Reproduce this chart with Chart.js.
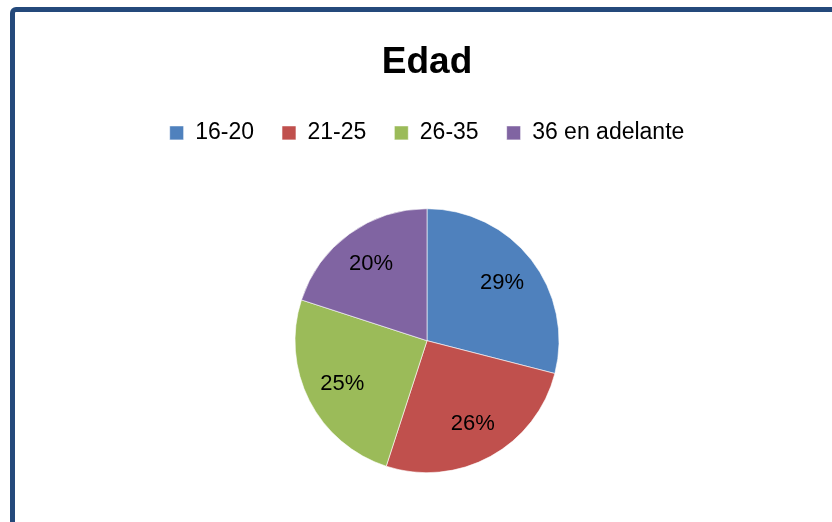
<!DOCTYPE html>
<html>
<head>
<meta charset="utf-8">
<script src="https://cdn.jsdelivr.net/npm/chart.js@4/dist/chart.umd.min.js"></script>
<style>
  html, body { margin: 0; padding: 0; background: #fff; overflow: hidden; }
  #wrap { position: relative; width: 832px; height: 522px; overflow: hidden; }
  #frame {
    position: absolute; left: 10px; top: 7px; width: 900px; height: 600px;
    border: 5px solid #24497b; border-radius: 6px; pointer-events: none;
  }
  canvas { position: absolute; left: 0; top: 0; }
</style>
</head>
<body>
<div id="wrap">
  <canvas id="chart1" width="832" height="527"></canvas>
  <div id="frame"></div>
</div>
<script>
const categories = ['16-20', '21-25', '26-35', '36 en adelante'];
const percentages = [29, 26, 25, 20];
const sliceColors = ['#4f81bd', '#c0504d', '#9bbb59', '#8064a2'];

const font = "'Liberation Sans', Arial, sans-serif";

// percentage labels inside each slice
const sliceLabels = {
  id: 'sliceLabels',
  afterDatasetsDraw(chart) {
    const ctx = chart.ctx;
    const meta = chart.getDatasetMeta(0);
    const values = chart.data.datasets[0].data;
    const total = values.reduce((a, b) => a + b, 0);
    ctx.save();
    ctx.font = '22px ' + font;
    ctx.fillStyle = '#000';
    ctx.textAlign = 'center';
    ctx.textBaseline = 'middle';
    meta.data.forEach((arc, i) => {
      const p = arc.getProps(['x', 'y', 'startAngle', 'endAngle', 'outerRadius'], true);
      const mid = (p.startAngle + p.endAngle) / 2;
      const r = p.outerRadius * 0.72;
      ctx.fillText(Math.round(values[i] / total * 100) + '%', p.x + Math.cos(mid) * r, p.y + Math.sin(mid) * r);
    });
    ctx.restore();
  }
};

const ctx1 = document.getElementById('chart1').getContext('2d');

new Chart(ctx1, {
  type: 'pie',
  data: {
    labels: categories,
    datasets: [{
      data: percentages,
      backgroundColor: sliceColors,
      borderColor: '#ffffff',
      borderWidth: 0.6,
      radius: 132
    }]
  },
  options: {
    responsive: false,
    animation: false,
    layout: { padding: { left: 22, right: 0, top: 41, bottom: 0 } },
    plugins: {
      title: {
        display: true,
        text: 'Edad',
        color: '#000',
        font: { family: font, size: 37, weight: 'bold' },
        padding: { top: 0, bottom: 8 }
      },
      legend: {
        display: true,
        position: 'top',
        labels: {
          color: '#000',
          boxWidth: 14,
          boxHeight: 14,
          padding: 28,
          font: { family: font, size: 23 }
        }
      },
      tooltip: { enabled: false }
    }
  },
  plugins: [sliceLabels]
});
</script>
</body>
</html>
